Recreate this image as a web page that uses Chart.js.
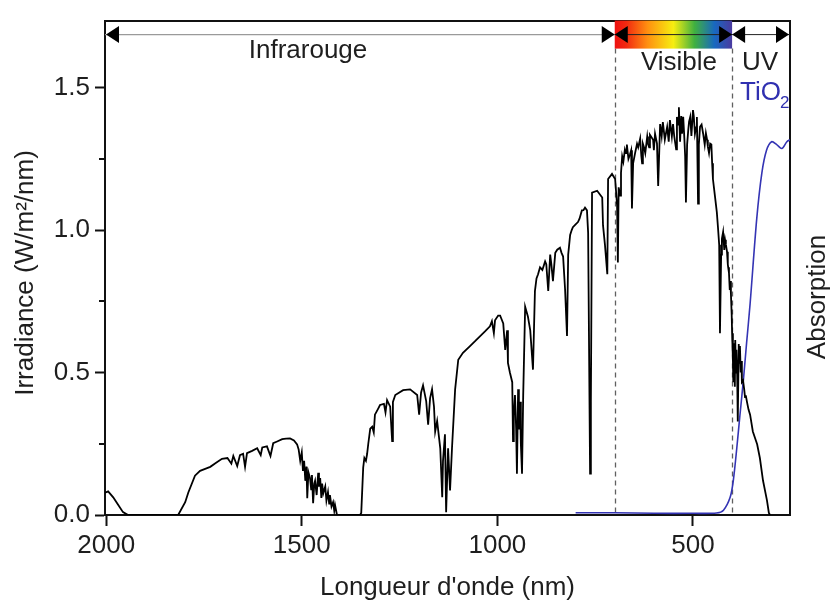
<!DOCTYPE html>
<html><head><meta charset="utf-8">
<script src="https://cdn.jsdelivr.net/npm/chart.js@4/dist/chart.umd.min.js"></script>
<style>html,body{margin:0;padding:0;background:#fff}</style>
</head><body>
<canvas id="c" width="832" height="605"></canvas>
<script>
// ---------- data ----------
const wavelengthNm = [
 2003,1995,1982,1972,1957,1944,1816,1798,1790,1773,1760,1747,1734,1719,1704,1690,1680,1675,1665,1658,
 1650,1645,1640,1627,1614,1605,1601,1589,1580,1573,1563,1550,1540,1530,1520,1512,1508,1504,1500,1497,
 1494,1491,1488,1486,1483,1479,1476,1474,1471,1468,1466,1462,1458,1456,1453,1450,1448,1445,1440,1437,
 1433,1430,1428,1424,1420,1417,1415,1410,1351,
 1348,1343,1340,1336,1333,1330,1325,1320,1316,1313,1306,1300,1290,1286,1282,1274,1269,1267,1261,1241,
 1223,1205,1200,1195,1190,1182,1177,1172,1167,1162,1159,1154,1146,1141,1139,1134,1131,1126,1121,1116,
 1108,1100,1088,1070,1057,1044,1031,1019,1014,1009,1006,998,993,985,980,975,973,968,962,960,
 958,955,952,950,947,945,942,940,937,934,929,922,916,909,904,900,896,891,885,878,
 875,870,865,862,858,852,847,840,836,832,827,822,819,814,810,807,800,794,790,784,
 780,776,771,768,763,761,758,745,732,730,725,719,717,707,699,694,692,690,686,684,
 681,678,674,671,669,665,661,658,656,653,648,643,640,635,632,630,628,625,622,617,
 615,612,610,602,600,597,592,589,584,580,577,572,569,566,562,559,554,551,548,543,
 541,538,536,533,530,528,525,522,520,518,515,512,510,507,504,500,498,495,492,490,
 487,485,482,478,474,470,467,464,462,459,456,453,451,449,444,439,436,433,431,428,
 426,423,420,418,416,413,411,410,408,406,405,403,401,400,398,397,395,393,392,390,
 389,387,386,385,383,382,380,378,376,375,372,369,367,365,362,358,354,347,336,329,
 321,311,306,303
];
const irradiance = [
 0.078,0.083,0.062,0.041,0.010,0.000,0.000,0.045,0.079,0.138,0.155,0.162,0.169,0.183,0.197,0.200,0.180,0.207,0.172,0.210,
 0.215,0.169,0.217,0.225,0.234,0.210,0.237,0.241,0.207,0.252,0.258,0.266,0.268,0.269,0.262,0.248,0.230,0.190,0.220,0.155,
 0.190,0.120,0.170,0.059,0.150,0.130,0.090,0.140,0.041,0.110,0.120,0.070,0.148,0.100,0.130,0.060,0.110,0.076,0.100,0.050,
 0.080,0.040,0.070,0.030,0.045,0.015,0.035,0.000,0.000,
 0.007,0.166,0.200,0.190,0.214,0.250,0.303,0.310,0.290,0.352,0.370,0.386,0.390,0.360,0.403,0.380,0.259,0.397,0.421,0.438,
 0.441,0.421,0.352,0.430,0.455,0.400,0.317,0.410,0.441,0.380,0.293,0.330,0.234,0.062,0.190,0.283,0.010,0.234,0.086,0.234,
 0.441,0.545,0.569,0.593,0.610,0.628,0.645,0.662,0.680,0.638,0.683,0.700,0.700,0.672,0.579,0.648,0.534,0.500,0.466,0.259,
 0.350,0.421,0.300,0.145,0.441,0.300,0.397,0.250,0.145,0.421,0.731,0.697,0.648,0.510,0.786,0.830,0.845,0.869,0.860,0.890,
 0.880,0.786,0.914,0.880,0.821,0.920,0.931,0.938,0.920,0.907,0.793,0.628,0.914,0.983,1.000,1.010,1.020,1.028,1.040,1.069,
 1.070,1.079,1.069,0.990,0.145,0.397,1.131,1.138,1.114,1.017,0.948,0.845,1.179,1.197,1.179,1.086,0.886,1.150,1.121,1.200,
 1.259,1.240,1.283,1.270,1.300,1.250,1.266,1.280,1.076,1.234,1.270,1.303,1.290,1.321,1.260,1.234,1.303,1.290,1.270,1.328,
 1.303,1.290,1.334,1.317,1.280,1.338,1.303,1.155,1.372,1.330,1.379,1.317,1.340,1.362,1.310,1.386,1.328,1.372,1.330,1.283,
 1.397,1.370,1.431,1.310,1.400,1.338,1.397,1.320,1.259,1.097,1.300,1.352,1.380,1.397,1.330,1.421,1.400,1.338,1.360,1.397,
 1.093,1.300,1.362,1.370,1.338,1.300,1.340,1.317,1.293,1.270,1.303,1.300,1.234,1.179,1.121,1.062,1.007,0.948,0.638,0.914,
 0.970,0.993,0.930,0.966,0.950,0.924,0.880,0.869,0.850,0.790,0.821,0.776,0.700,0.638,0.550,0.466,0.603,0.450,0.614,0.500,
 0.580,0.490,0.440,0.328,0.600,0.534,0.593,0.500,0.540,0.466,0.472,0.440,0.414,0.420,0.397,0.370,0.352,0.293,0.248,0.200,
 0.121,0.052,0.007,0.000
];
const tio2Nm  = [800,700,600,500,440,422,405,397,388,380,371,363,354,337,324,312,299,286,273,260,252];
const tio2Abs = [0.008,0.008,0.006,0.006,0.007,0.017,0.062,0.120,0.235,0.350,0.476,0.603,0.741,1.040,1.200,1.280,1.310,1.300,1.286,1.310,1.317];
const xTickValues = [2000,1500,1000,500];
const yTickValues = [0,0.25,0.5,0.75,1.0,1.25,1.5];
const yMajorLabels = {"0":"0.0","0.5":"0.5","1":"1.0","1.5":"1.5"};
const regionBounds = {irStart:2003, visStart:700, uvStart:400, uvEnd:252};

const FONT = "'Liberation Sans', Arial, Helvetica, sans-serif";
const TXT = '#1e1e1e';

const spectrum = wavelengthNm.map((w,i)=>({x:w, y:irradiance[i]})).sort((a,b)=>b.x-a.x);
const tio2 = tio2Nm.map((w,i)=>({x:w, y:tio2Abs[i]}));

function tri(ctx, tipX, y, dir){
  ctx.beginPath();
  ctx.moveTo(tipX, y);
  ctx.lineTo(tipX - dir*13, y-8.5);
  ctx.lineTo(tipX - dir*13, y+8.5);
  ctx.closePath(); ctx.fill();
}

const annot = {
  id:'annot',
  beforeDatasetsDraw(chart){
    const {ctx, chartArea:a, scales:{x}} = chart;
    ctx.save();
    ctx.strokeStyle = '#606060'; ctx.lineWidth = 1.3; ctx.setLineDash([5,4]);
    [regionBounds.visStart, regionBounds.uvStart].forEach(v=>{
      const px = Math.round(x.getPixelForValue(v))+0.5;
      ctx.beginPath(); ctx.moveTo(px, a.top+28); ctx.lineTo(px, a.bottom); ctx.stroke();
    });
    ctx.restore();
  },
  afterDraw(chart){
    const {ctx, chartArea:a, scales:{x,y}} = chart;
    ctx.save();
    const pVis = x.getPixelForValue(regionBounds.visStart);
    const pUv = x.getPixelForValue(regionBounds.uvStart);
    const g = ctx.createLinearGradient(pVis,0,pUv,0);
    g.addColorStop(0.00,'#ee1010');
    g.addColorStop(0.10,'#f22a10');
    g.addColorStop(0.28,'#ff9010');
    g.addColorStop(0.50,'#f6ee10');
    g.addColorStop(0.68,'#40b040');
    g.addColorStop(0.85,'#1868c0');
    g.addColorStop(1.00,'#4a3aa0');
    ctx.fillStyle = g;
    ctx.fillRect(pVis, a.top, pUv-pVis, 28);
    const ay = a.top + 14;
    ctx.lineWidth = 1.4;
    ctx.strokeStyle = '#9a9a9a';
    ctx.beginPath(); ctx.moveTo(a.left, ay); ctx.lineTo(pVis, ay); ctx.stroke();
    ctx.strokeStyle = '#222';
    ctx.lineWidth = 1;
    ctx.beginPath(); ctx.moveTo(pVis, ay); ctx.lineTo(pUv, ay); ctx.stroke();
    ctx.beginPath(); ctx.moveTo(pUv, ay); ctx.lineTo(a.right, ay); ctx.stroke();
    ctx.fillStyle = '#000';
    tri(ctx, a.left+1, ay, -1);
    tri(ctx, pVis, ay, 1);
    tri(ctx, pVis, ay, -1);
    tri(ctx, pUv, ay, 1);
    tri(ctx, pUv, ay, -1);
    tri(ctx, a.right-1, ay, 1);
    ctx.font = '26px ' + FONT;
    ctx.fillStyle = TXT;
    ctx.textBaseline = 'alphabetic';
    ctx.textAlign = 'center';
    ctx.fillText('Infrarouge', 308, 58);
    ctx.fillText('Visible', 679, 70);
    ctx.fillText('UV', 760, 70);
    ctx.fillStyle = '#3030b0';
    ctx.textAlign = 'left';
    ctx.fillText('TiO', 740, 100);
    ctx.font = '17px ' + FONT;
    ctx.fillText('2', 780, 108);
    ctx.strokeStyle = '#111'; ctx.lineWidth = 2;
    [0.25,0.75,1.25].forEach(v=>{
      const py = Math.round(y.getPixelForValue(v));
      ctx.beginPath(); ctx.moveTo(a.left-6, py); ctx.lineTo(a.left, py); ctx.stroke();
    });
    ctx.font = '26px ' + FONT;
    ctx.fillStyle = TXT;
    ctx.textAlign = 'center'; ctx.textBaseline = 'middle';
    ctx.translate(26, 273); ctx.rotate(-Math.PI/2);
    ctx.fillText('Irradiance (W/m\u00B2/nm)', 0, 0);
    ctx.setTransform(1,0,0,1,0,0);
    ctx.translate(818, 297); ctx.rotate(-Math.PI/2);
    ctx.fillText('Absorption', 0, 0);
    ctx.restore();
  }
};

new Chart(document.getElementById('c'), {
  type:'line',
  data:{datasets:[
    {label:'Irradiance', data:spectrum, borderColor:'#000', borderWidth:1.8, pointRadius:0, tension:0, fill:false},
    {label:'TiO2', data:tio2, borderColor:'#3434b4', borderWidth:1.6, pointRadius:0, tension:0.3, fill:false}
  ]},
  options:{
    responsive:false, animation:false,
    layout:{padding:0},
    plugins:{legend:{display:false}, tooltip:{enabled:false}},
    scales:{
      x:{type:'linear', position:'bottom', reverse:true, min:regionBounds.uvEnd, max:regionBounds.irStart,
        afterBuildTicks:s=>{s.ticks = xTickValues.map(v=>({value:v}));},
        afterFit:s=>{s.height = 90;},
        ticks:{font:{family:FONT,size:26}, color:TXT, padding:4, maxRotation:0, autoSkip:false, callback:v=>String(v)},
        grid:{drawOnChartArea:false, drawTicks:true, tickLength:11, tickWidth:2, tickColor:'#111'},
        border:{display:true, color:'#111', width:2},
        title:{display:true, text:"Longueur d'onde (nm)", font:{family:FONT,size:26}, color:TXT, padding:{top:0,bottom:2}}
      },
      x2:{type:'linear', position:'top', reverse:true, min:regionBounds.uvEnd, max:regionBounds.irStart,
        afterFit:s=>{s.height = 8;},
        ticks:{display:false}, grid:{display:false},
        border:{display:true, color:'#111', width:2}
      },
      y:{type:'linear', position:'left', min:0, max:1.735,
        afterBuildTicks:s=>{s.ticks = yTickValues.map(v=>({value:v}));},
        afterFit:s=>{s.width = 105;},
        ticks:{font:{family:FONT,size:26}, color:TXT, padding:5, autoSkip:false,
          callback:v=>(yMajorLabels[String(v)] ?? '')},
        grid:{drawOnChartArea:false, drawTicks:true, tickLength:10, tickWidth:2,
          tickColor:c=> (yMajorLabels[String(c.tick && c.tick.value)] !== undefined ? '#111' : 'rgba(0,0,0,0)')},
        border:{display:true, color:'#111', width:2}
      },
      y2:{type:'linear', position:'right', min:0, max:1.735,
        afterFit:s=>{s.width = 42;},
        ticks:{display:false}, grid:{display:false},
        border:{display:true, color:'#111', width:2}
      }
    }
  },
  plugins:[annot]
});
</script>
</body></html>
